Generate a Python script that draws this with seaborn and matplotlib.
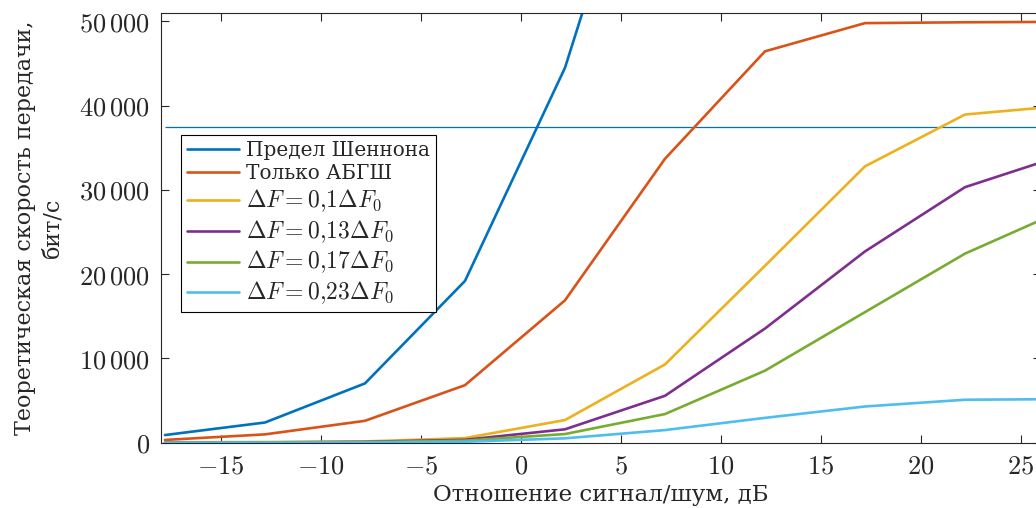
import numpy as np
import pandas as pd
import matplotlib
matplotlib.use("Agg")
import matplotlib.pyplot as plt
import seaborn as sns

# Signal-to-noise ratio grid, dB
snr_db = [-17.8, -12.8, -7.8, -2.8, 2.2, 7.2, 12.2, 17.2, 22.2, 27.2]

# Theoretical throughput, bit/s
shannon = [910, 2400, 7040, 19200, 44500, 82000]
awgn_only = [330, 990, 2600, 6830, 16900, 33700, 46450, 49800, 49900, 49950]
df_010 = [50, 80, 150, 550, 2690, 9290, 21000, 32800, 38950, 40000]
df_013 = [20, 40, 100, 350, 1590, 5570, 13550, 22700, 30330, 34200]
df_017 = [15, 30, 70, 250, 1030, 3400, 8550, 15500, 22440, 27700]
df_023 = [5, 10, 30, 120, 520, 1500, 2950, 4300, 5100, 5180]

# Reference throughput level
target_rate = 37500

series_labels = [
    "Предел Шеннона",
    "Только АБГШ",
    r"$\Delta F=0{,}1\Delta F_0$",
    r"$\Delta F=0{,}13\Delta F_0$",
    r"$\Delta F=0{,}17\Delta F_0$",
    r"$\Delta F=0{,}23\Delta F_0$",
]
series_values = [shannon, awgn_only, df_010, df_013, df_017, df_023]
series_colors = ["#0072BD", "#D95319", "#EDB120", "#7E2F8E", "#77AC30", "#4DBEEE"]

x_ticks = [-15, -10, -5, 0, 5, 10, 15, 20, 25]
y_ticks = [0, 10000, 20000, 30000, 40000, 50000]
y_tick_labels = ["0", r"$10\,000$", r"$20\,000$", r"$30\,000$", r"$40\,000$", r"$50\,000$"]

sns.set_theme(style="ticks")
plt.rcParams["font.family"] = ["DejaVu Serif"]
plt.rcParams["mathtext.fontset"] = "cm"
plt.rcParams["axes.unicode_minus"] = True

frames = []
for label, vals in zip(series_labels, series_values):
    frames.append(pd.DataFrame({"snr": snr_db[:len(vals)], "rate": vals, "series": label}))
data = pd.concat(frames, ignore_index=True)

fig = plt.figure(figsize=(10.36, 5.08), dpi=100)
ax = fig.add_axes([0.1554, 0.1285, 0.8494, 0.8459])

sns.lineplot(data=data, x="snr", y="rate", hue="series", hue_order=series_labels,
             palette=series_colors, linewidth=1.9, ax=ax, sort=False)

ax.hlines(target_rate, snr_db[0], 40, color=series_colors[0], linewidth=0.9, zorder=1)

ax.set_xlim(-18, 26)
ax.set_ylim(0, 51000)
ax.set_xticks(x_ticks)
ax.set_xticklabels([rf"${v}$" if v >= 0 else rf"$-{abs(v)}$" for v in x_ticks], fontsize=19)
ax.set_yticks(y_ticks)
ax.set_yticklabels([rf"${t}$" if t == "0" else t for t in y_tick_labels], fontsize=19)

ax.tick_params(direction="in", length=6, width=0.8, color="#262626",
               top=True, right=True, pad=8)
for side in ["left", "right", "top", "bottom"]:
    ax.spines[side].set_visible(True)
    ax.spines[side].set_color("#262626")
    ax.spines[side].set_linewidth(0.8)

label_font = dict(family="DejaVu Serif", weight="light")
ax.set_xlabel("Отношение сигнал/шум, дБ", fontsize=16.5, labelpad=4, **label_font)
ax.set_ylabel("Теоретическая скорость передачи,\nбит/с", fontsize=16, labelpad=11,
              linespacing=1.35, **label_font)

leg = ax.legend(loc="upper left", bbox_to_anchor=(0.023, 0.715), fontsize=14.4,
                frameon=True, fancybox=False, edgecolor="#000000", framealpha=1,
                handlelength=2.6, handletextpad=0.35, labelspacing=0.2,
                borderpad=0.3, borderaxespad=0)
leg.get_frame().set_linewidth(0.8)
for line in leg.get_lines():
    line.set_linewidth(1.9)
for txt in leg.get_texts():
    if txt.get_text().startswith("$"):
        txt.set_fontsize(17)

fig.savefig("out.png", dpi=100)
